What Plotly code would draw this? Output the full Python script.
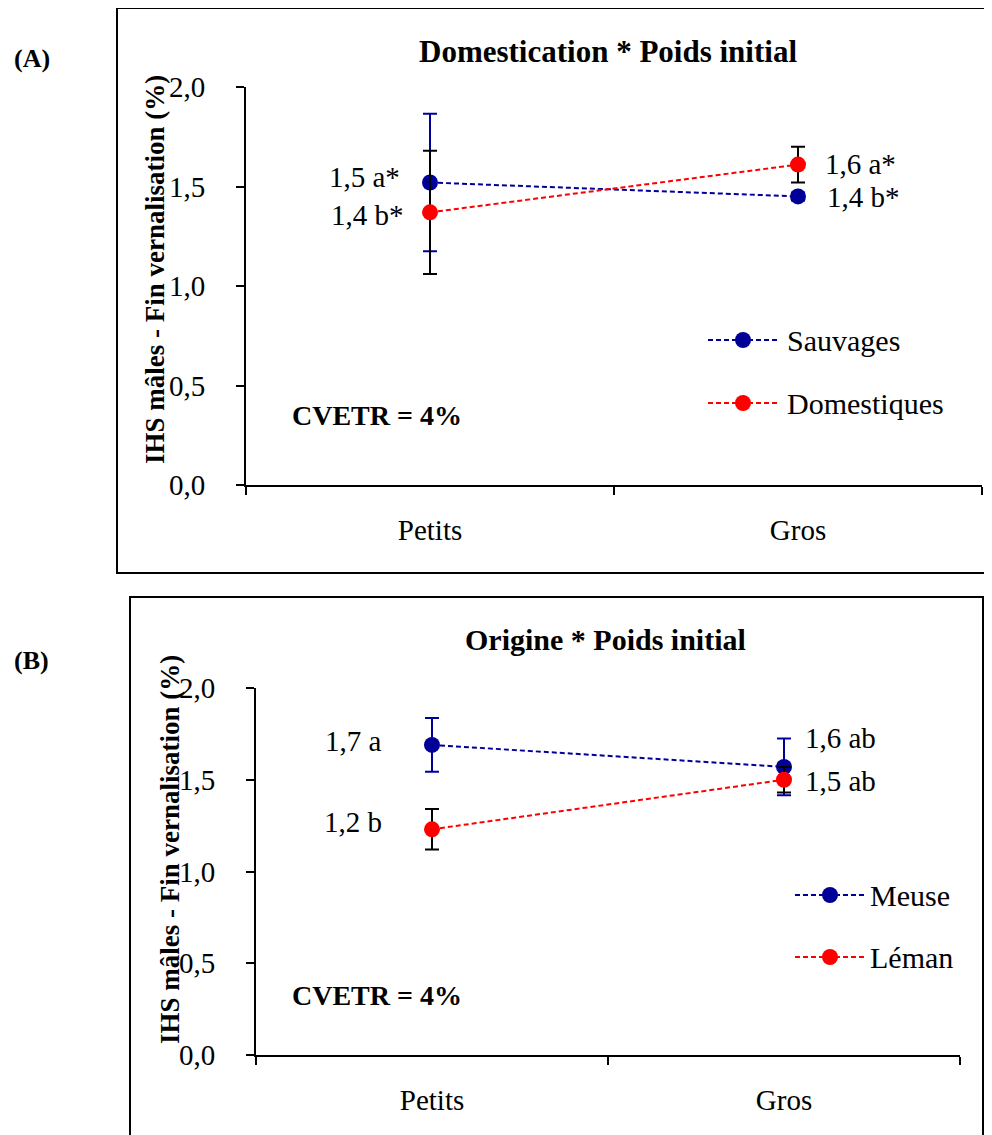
import plotly.graph_objects as go

# ---------------- data ----------------
categories = ["Petits", "Gros"]

# Panel A : Domestication * Poids initial
a_series = ["Sauvages", "Domestiques"]
a_sauvages = [1.52, 1.45]
a_sauvages_err = [0.345, 0.02]
a_domestiques = [1.37, 1.61]
a_domestiques_err = [0.31, 0.09]
a_sauvages_labels = ["1,5 a*", "1,4 b*"]
a_domestiques_labels = ["1,4 b*", "1,6 a*"]

# Panel B : Origine * Poids initial
b_series = ["Meuse", "Léman"]
b_meuse = [1.69, 1.57]
b_meuse_err = [0.147, 0.155]
b_leman = [1.23, 1.50]
b_leman_err = [0.11, 0.07]
b_meuse_labels = ["1,7 a", "1,6 ab"]
b_leman_labels = ["1,2 b", "1,5 ab"]

y_ticks = [0.0, 0.5, 1.0, 1.5, 2.0]

# ---------------- styling ----------------
W, H = 992, 1135
OX, OY = 8, 8  # page body margin offset
FONT = "Liberation Serif, Times New Roman, serif"
BLUE = "#000099"
RED = "#FF0000"
DASH = "5px,3px"


def px(x):
    return (x - OX) / W


def py(y):
    return 1 - (y - OY) / H


fig = go.Figure()


def add_series(xa, ya, vals, errs, color, errcolor, name):
    fig.add_trace(go.Scatter(
        x=categories, y=vals, xaxis=xa, yaxis=ya, name=name,
        mode="lines+markers", showlegend=False,
        line=dict(color=color, width=2, dash=DASH),
        marker=dict(color=color, size=16),
        error_y=dict(type="data", array=errs, visible=True, color=errcolor,
                     thickness=2, width=7),
    ))


add_series("x", "y", a_sauvages, a_sauvages_err, BLUE, BLUE, a_series[0])
add_series("x", "y", a_domestiques, a_domestiques_err, RED, "black", a_series[1])
add_series("x2", "y2", b_meuse, b_meuse_err, BLUE, BLUE, b_series[0])
add_series("x2", "y2", b_leman, b_leman_err, RED, "black", b_series[1])

axis_common = dict(showgrid=False, zeroline=False, showline=True, linecolor="black",
                   linewidth=2, ticks="outside", tickcolor="black", ticklen=8, tickwidth=2,
                   automargin=False,
                   tickfont=dict(family=FONT, size=29, color="black"))

xcommon = dict(axis_common, type="category", categoryorder="array", categoryarray=categories,
               range=[-0.5, 1.5], tickson="boundaries", ticklabelstandoff=18)
ycommon = dict(axis_common, range=[0, 2], tickmode="array", tickvals=y_ticks,
               tickformat=".1f", ticklabelstandoff=25)

fig.update_layout(
    template="none",
    width=W, height=H, margin=dict(l=0, r=0, t=0, b=0, pad=0, autoexpand=False),
    paper_bgcolor="white", plot_bgcolor="rgba(0,0,0,0)",
    separators=", ",
    font=dict(family=FONT, color="black"),
    xaxis=dict(xcommon, domain=[px(246), px(982)], anchor="y"),
    yaxis=dict(ycommon, domain=[py(485), py(87)], anchor="x"),
    xaxis2=dict(xcommon, domain=[px(256), px(960)], anchor="y2"),
    yaxis2=dict(ycommon, domain=[py(1055), py(688)], anchor="x2"),
    showlegend=False,
)

shapes = [
    dict(type="rect", xref="paper", yref="paper", x0=px(117), x1=px(1010), y0=py(573), y1=py(8),
         line=dict(color="black", width=2)),
    dict(type="rect", xref="paper", yref="paper", x0=px(130), x1=px(983), y0=py(1150), y1=py(597),
         line=dict(color="black", width=2)),
]

annotations = []


def text(x, y, s, size=29, bold=False, xanchor="left", **kw):
    annotations.append(dict(xref="paper", yref="paper", x=px(x), y=py(y), text=f"<b>{s}</b>" if bold else s,
                            showarrow=False, xanchor=xanchor, yanchor="middle",
                            font=dict(family=FONT, size=size, color="black"), **kw))


# panel labels and titles
text(12, 58, "(A)", size=26, bold=True)
text(12, 660, "(B)", size=26, bold=True)
text(608, 52, "Domestication * Poids initial", size=31, bold=True, xanchor="center")
text(605, 639, "Origine * Poids initial", size=30, bold=True, xanchor="center")
text(155, 270, "IHS mâles - Fin vernalisation (%)", size=27, bold=True, xanchor="center", textangle=-90)
text(170, 850, "IHS mâles - Fin vernalisation (%)", size=27, bold=True, xanchor="center", textangle=-90)
text(290, 416, "CVETR = 4%", size=28, bold=True)
text(290, 995, "CVETR = 4%", size=28, bold=True)


# manual legends (long dashed key lines like the original)
def legend_item(x0, y, name, color, gap):
    shapes.append(dict(type="line", xref="paper", yref="paper", x0=px(x0), x1=px(x0 + 70), y0=py(y), y1=py(y),
                       line=dict(color=color, width=2, dash=DASH)))
    shapes.append(dict(type="circle", xref="paper", yref="paper", x0=px(x0 + 27), x1=px(x0 + 43),
                       y0=py(y + 8), y1=py(y - 8), fillcolor=color, line=dict(color=color, width=0)))
    text(x0 + 70 + gap, y, name, size=30)


legend_item(708, 340, a_series[0], BLUE, 7)
legend_item(708, 403, a_series[1], RED, 7)
legend_item(795, 895, b_series[0], BLUE, 3)
legend_item(795, 957, b_series[1], RED, 3)


# data labels anchored to the points
def point_label(xa, ya, cat, val, s, side, xshift, yshift):
    annotations.append(dict(xref=xa, yref=ya, x=cat, y=val, text=s, showarrow=False,
                            xanchor="right" if side == "left" else "left", yanchor="middle",
                            xshift=xshift, yshift=yshift,
                            font=dict(family=FONT, size=29, color="black")))


point_label("x", "y", categories[0], a_sauvages[0], a_sauvages_labels[0], "left", -28, 6)
point_label("x", "y", categories[1], a_sauvages[1], a_sauvages_labels[1], "right", 27, -1)
point_label("x", "y", categories[0], a_domestiques[0], a_domestiques_labels[0], "left", -24, -3)
point_label("x", "y", categories[1], a_domestiques[1], a_domestiques_labels[1], "right", 25, 1)
point_label("x2", "y2", categories[0], b_meuse[0], b_meuse_labels[0], "left", -48, 4)
point_label("x2", "y2", categories[1], b_meuse[1], b_meuse_labels[1], "right", 19, 29)
point_label("x2", "y2", categories[0], b_leman[0], b_leman_labels[0], "left", -48, 7)
point_label("x2", "y2", categories[1], b_leman[1], b_leman_labels[1], "right", 19, -1)

fig.update_layout(shapes=shapes, annotations=annotations)

fig.write_html("out.html")
